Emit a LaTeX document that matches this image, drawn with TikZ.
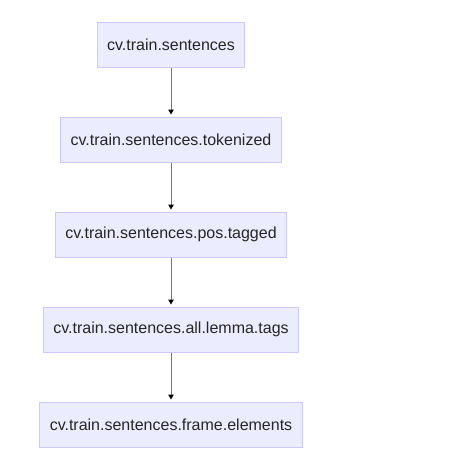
\documentclass[tikz,border=0pt]{standalone}
\usepackage{fontspec}
\setmainfont{Liberation Sans}
\usetikzlibrary{arrows.meta,positioning}
\definecolor{boxfill}{RGB}{236,236,255}
\definecolor{boxline}{RGB}{204,200,250}
\definecolor{edgegray}{RGB}{120,120,120}

\begin{document}
\begin{tikzpicture}[
  x=1pt,y=1pt,
  stage/.style={draw=boxline,fill=boxfill,line width=1pt,minimum height=45pt,inner xsep=10pt,font=\fontsize{16}{19}\selectfont,text=black!85},
  flow/.style={-{Triangle[length=5pt,width=5.5pt,color=black]},line width=1pt,draw=edgegray,shorten >=2pt},
  node distance=49pt
]
\useasboundingbox (0,0) rectangle (449,-463);
\node[stage] (raw) at (171,-44.5) {cv.train.sentences};
\node[stage,below=of raw] (tok) {cv.train.sentences.tokenized};
\node[stage,below=of tok] (pos) {cv.train.sentences.pos.tagged};
\node[stage,below=of pos] (lemma) {cv.train.sentences.all.lemma.tags};
\node[stage,below=of lemma] (frame) {cv.train.sentences.frame.elements};
\draw[flow] (raw) -- (tok);
\draw[flow] (tok) -- (pos);
\draw[flow] (pos) -- (lemma);
\draw[flow] (lemma) -- (frame);
\end{tikzpicture}
\end{document}
